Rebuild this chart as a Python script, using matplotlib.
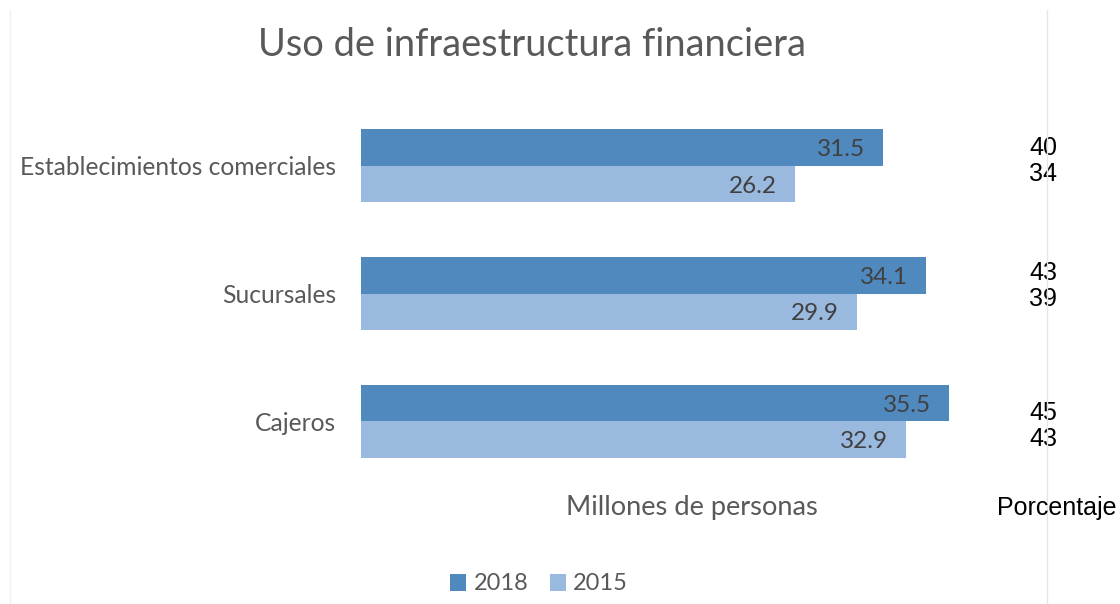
import matplotlib.pyplot as plt
from matplotlib.transforms import blended_transform_factory

categories = ["Establecimientos comerciales", "Sucursales", "Cajeros"]
millones_2018 = [31.5, 34.1, 35.5]
millones_2015 = [26.2, 29.9, 32.9]
pct_2018 = [40, 43, 45]
pct_2015 = [34, 39, 43]

c2018 = "#4f89bd"
c2015 = "#99b9df"
gray = "#595959"

W, H = 1120, 604
fig = plt.figure(figsize=(W / 100, H / 100), dpi=100)

# axes placed in pixel terms
left, right, top, bottom = 361, 1024, 102, 485
ax = fig.add_axes([left / W, 1 - bottom / H, (right - left) / W, (bottom - top) / H])

y = list(range(len(categories)))
h = 0.285
ax.barh([i - h / 2 for i in y], millones_2018, height=h, color=c2018, label="2018")
ax.barh([i + h / 2 for i in y], millones_2015, height=h, color=c2015, label="2015")

ax.set_xlim(0, 40)
ax.set_ylim(2.5, -0.5)
for s in ax.spines.values():
    s.set_visible(False)
ax.set_xticks([])
ax.set_yticks(y)
ax.set_yticklabels(categories, family="Lato", fontsize=17.7, color=gray)
ax.tick_params(axis="y", length=0, pad=18)

for i in y:
    ax.annotate(f"{millones_2018[i]}", (millones_2018[i], i - h / 2), xytext=(-13, -1.5),
                textcoords="offset points", ha="right", va="center",
                family="Lato", fontsize=17.5, color="#404040")
    ax.annotate(f"{millones_2015[i]}", (millones_2015[i], i + h / 2), xytext=(-13, -1.5),
                textcoords="offset points", ha="right", va="center",
                family="Lato", fontsize=17.5, color="#404040")

# percentage column on the right
tr = blended_transform_factory(fig.transFigure, ax.transData)
x_pct = 1043 / W
pct_shift = [-0.04, -0.06, 0.04]
for i in y:
    ax.text(x_pct, i + pct_shift[i], f"{pct_2018[i]}\n{pct_2015[i]}", transform=tr,
            ha="center", va="center", family="Liberation Sans", fontsize=18,
            color="black", linespacing=1.1)

fig.text(1057 / W, 1 - 508 / H, "Porcentaje", ha="center", va="center",
         family="Liberation Sans", fontsize=18, color="black")
fig.text(692 / W, 1 - 508 / H, "Millones de personas", ha="center", va="center",
         family="Lato", fontsize=19.6, color=gray)
fig.text(258 / W, 1 - 45 / H, "Uso de infraestructura financiera", ha="left",
         va="center", family="Lato", fontsize=27.4, color=gray)

# faint frame lines
fig.add_artist(plt.Line2D([10 / W, 10 / W], [0, 1 - 10 / H], color="#f0f0f0", lw=1))
fig.add_artist(plt.Line2D([1047 / W, 1047 / W], [0, 1 - 10 / H], color="#e6e6e6", lw=1))

fig.legend(loc="center", bbox_to_anchor=(539 / W, 1 - 584 / H), ncol=2, frameon=False,
           prop={"family": "Lato", "size": 17}, labelcolor=gray,
           handlelength=0.7, handleheight=0.7, handletextpad=0.3, columnspacing=0.9)

fig.savefig("out.png", dpi=100, facecolor="white")
